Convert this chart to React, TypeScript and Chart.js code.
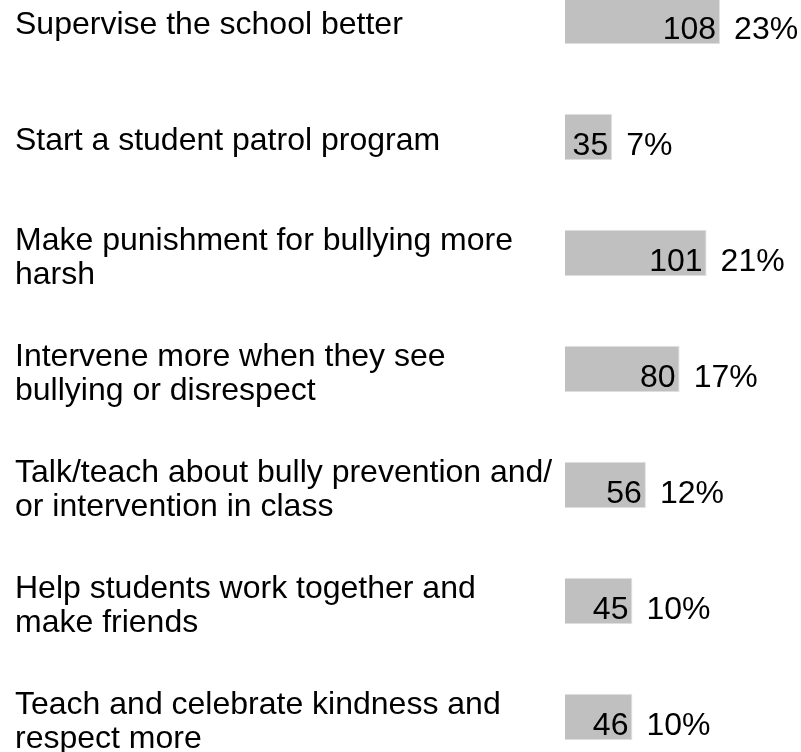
import React, { useEffect, useRef } from "react";
import { Chart, registerables } from "chart.js";

Chart.register(...registerables);

const categories: string[][] = [
  ["Supervise the school better"],
  ["Start a student patrol program"],
  ["Make punishment for bullying more", "harsh"],
  ["Intervene more when they see", "bullying or disrespect"],
  ["Talk/teach about bully prevention and/", "or intervention in class"],
  ["Help students work together and", "make friends"],
  ["Teach and celebrate kindness and", "respect more"],
];
const counts: number[] = [108, 35, 101, 80, 56, 45, 46];
const percents: number[] = [23, 7, 21, 17, 12, 10, 10];

const FONT_FAMILY = "'Liberation Sans', Arial, sans-serif";
const FONT_SIZE = 32;
const LINE_GAP = 33.5;

const labelPlugin = {
  id: "barLabels",
  afterDatasetsDraw(chart: any) {
    const { ctx } = chart;
    const meta = chart.getDatasetMeta(0);
    const yScale = chart.scales.y;
    ctx.save();
    ctx.font = `${FONT_SIZE}px ${FONT_FAMILY}`;
    ctx.fillStyle = "#000000";
    ctx.textBaseline = "alphabetic";
    // category labels (left-aligned at the axis' left edge)
    categories.forEach((lines, i) => {
      const cy = yScale.getPixelForTick(i);
      ctx.textAlign = "left";
      if (lines.length === 1) {
        ctx.fillText(lines[0], yScale.left, cy + 12.5);
      } else {
        lines.forEach((line, j) => {
          ctx.fillText(line, yScale.left, cy - 3 + j * LINE_GAP);
        });
      }
    });
    // value labels
    meta.data.forEach((bar: any, i: number) => {
      const y = bar.y + 18;
      ctx.textAlign = "right";
      ctx.fillText(String(counts[i]), bar.x - 4, y);
      ctx.textAlign = "left";
      ctx.fillText(`${percents[i]}%`, bar.x + 14, y);
    });
    ctx.restore();
  },
};

export default function App() {
  const canvasRef = useRef<HTMLCanvasElement | null>(null);

  useEffect(() => {
    if (!canvasRef.current) return;
    const chart = new Chart(canvasRef.current, {
      type: "bar",
      data: {
        labels: categories,
        datasets: [
          {
            data: percents,
            backgroundColor: "#c0c0c0",
            borderColor: "#e2e2e2",
            borderWidth: 1,
            barPercentage: 0.4,
            categoryPercentage: 1,
          },
        ],
      },
      options: {
        indexAxis: "y",
        animation: false,
        responsive: true,
        maintainAspectRatio: false,
        layout: { padding: { left: 15, right: 0, top: 0, bottom: 0 } },
        plugins: {
          legend: { display: false },
          tooltip: { enabled: false },
        },
        scales: {
          x: {
            display: false,
            min: 0,
            max: 35,
            grid: { display: false },
          },
          y: {
            grid: { display: false },
            border: { display: false },
            afterFit: (scale: any) => {
              scale.width = 550;
              scale.paddingTop = 0;
              scale.paddingBottom = 0;
            },
            ticks: {
              display: false,
              autoSkip: false,
            },
          },
        },
      },
      plugins: [labelPlugin],
    });
    return () => chart.destroy();
  }, []);

  return (
    <div
      style={{
        position: "fixed",
        left: 0,
        top: 0,
        width: 801,
        height: 752,
        overflow: "hidden",
        background: "#ffffff",
      }}
    >
      <div
        style={{
          position: "absolute",
          left: 0,
          top: -37,
          width: 801,
          height: 812,
        }}
      >
        <canvas ref={canvasRef} />
      </div>
    </div>
  );
}
